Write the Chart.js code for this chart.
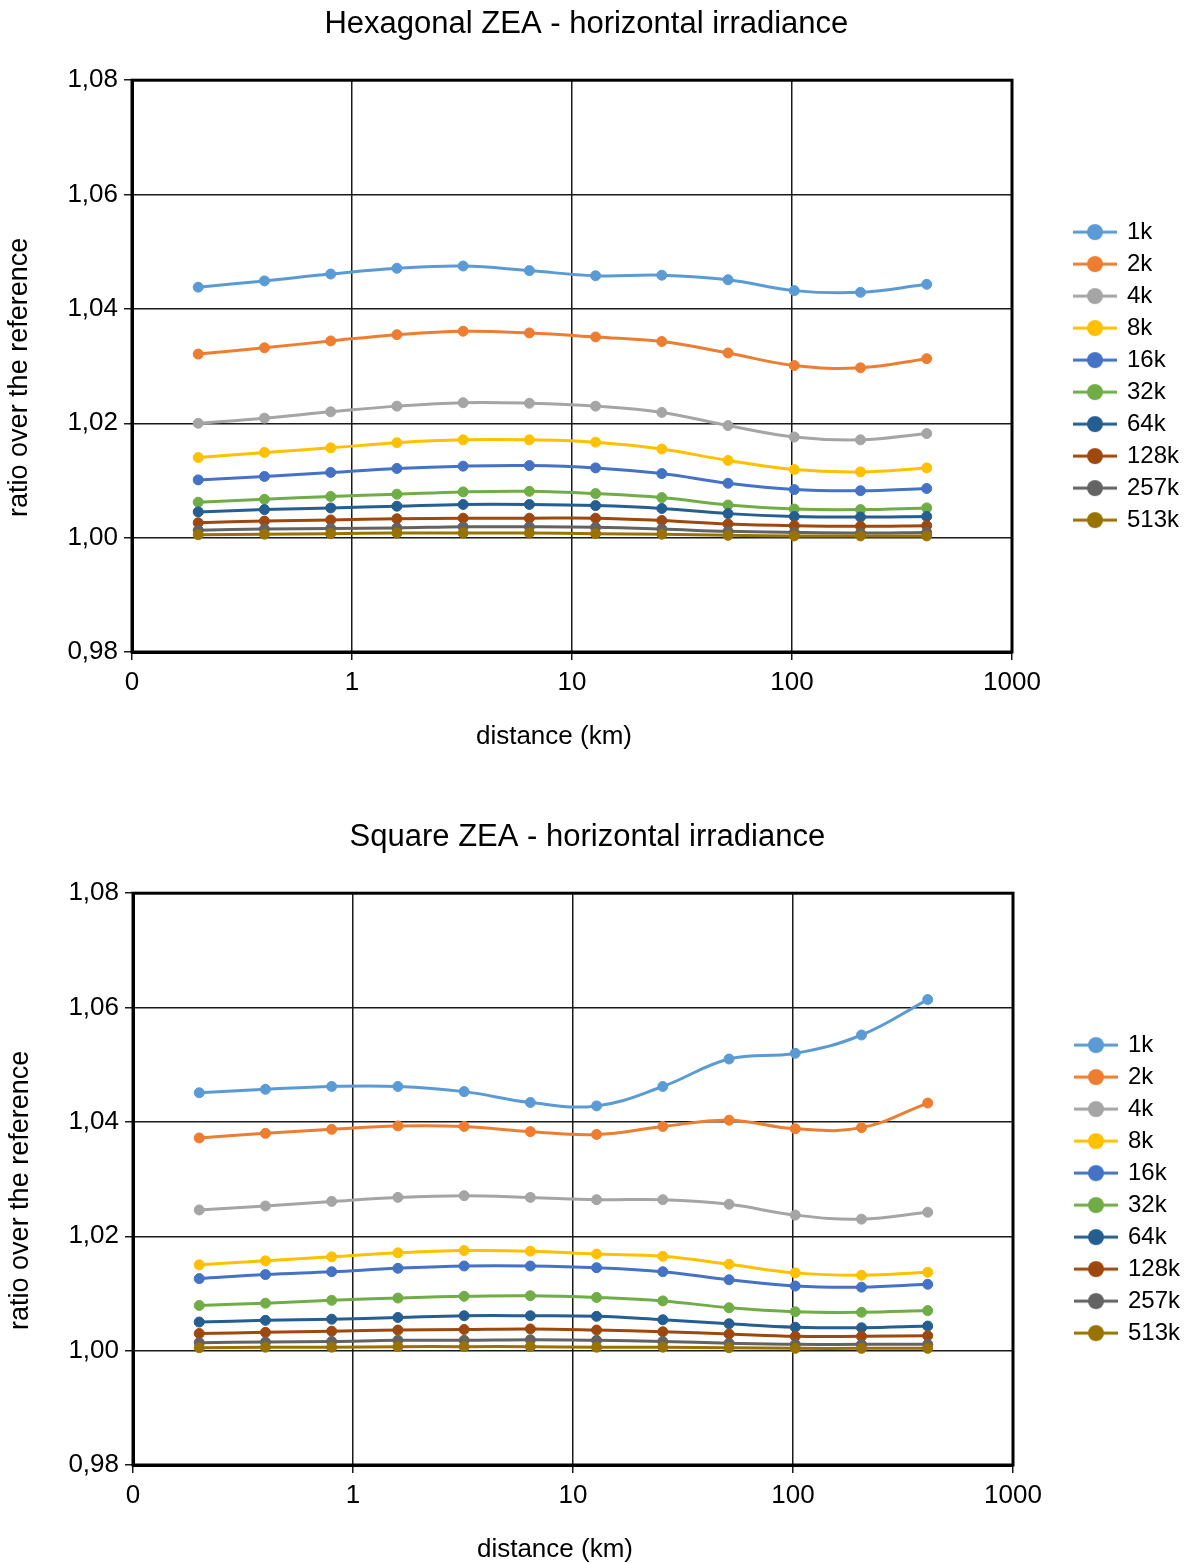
<!DOCTYPE html>
<html>
<head>
<meta charset="utf-8">
<title>ZEA horizontal irradiance</title>
<script src="https://cdn.jsdelivr.net/npm/chart.js@4.4.1/dist/chart.umd.min.js"></script>
<style>
  html, body { margin: 0; padding: 0; background: #fff; overflow: hidden; }
  .panel { position: absolute; left: 0; }
</style>
</head>
<body>
<div class="panel" style="top:0"><canvas id="hexChart" width="1190" height="780"></canvas></div>
<div class="panel" style="top:813px; left:1px"><canvas id="squareChart" width="1190" height="780"></canvas></div>
<script>
// distance from the centre (km), one point per doubling
const distances = [0.2, 0.4, 0.8, 1.6, 3.2, 6.4, 12.8, 25.6, 51.2, 102.4, 204.8, 409.6];
const xTicks = [0.1, 1, 10, 100, 1000];
const seriesNames = ["1k", "2k", "4k", "8k", "16k", "32k", "64k", "128k", "257k", "513k"];
const colors = ["#5B9BD5", "#ED7D31", "#A5A5A5", "#FFC000", "#4472C4",
                "#70AD47", "#255E91", "#9E480E", "#636363", "#997300"];

// Hexagonal ZEA
const hex1k   = [1.0438, 1.0449, 1.0461, 1.0471, 1.0475, 1.0467, 1.0458, 1.0459, 1.0451, 1.0432, 1.0429, 1.0443];
const hex2k   = [1.0321, 1.0332, 1.0344, 1.0355, 1.0361, 1.0358, 1.0351, 1.0343, 1.0323, 1.0301, 1.0297, 1.0313];
const hex4k   = [1.0200, 1.0209, 1.0220, 1.0230, 1.0236, 1.0235, 1.0230, 1.0219, 1.0196, 1.0176, 1.0171, 1.0182];
const hex8k   = [1.0140, 1.0149, 1.0157, 1.0166, 1.0171, 1.0171, 1.0167, 1.0155, 1.0135, 1.0119, 1.0115, 1.0122];
const hex16k  = [1.0101, 1.0107, 1.0114, 1.0121, 1.0125, 1.0126, 1.0122, 1.0112, 1.0095, 1.0084, 1.0082, 1.0086];
const hex32k  = [1.0062, 1.0067, 1.0072, 1.0076, 1.0080, 1.0081, 1.0077, 1.0070, 1.0057, 1.0050, 1.0049, 1.0052];
const hex64k  = [1.0045, 1.0049, 1.0052, 1.0055, 1.0058, 1.0058, 1.0056, 1.0051, 1.0042, 1.0037, 1.0036, 1.0037];
const hex128k = [1.0026, 1.0029, 1.0031, 1.0033, 1.0034, 1.0034, 1.0034, 1.0030, 1.0024, 1.0021, 1.0020, 1.0021];
const hex257k = [1.0013, 1.0015, 1.0016, 1.0017, 1.0019, 1.0019, 1.0018, 1.0015, 1.0011, 1.0009, 1.0008, 1.0009];
const hex513k = [1.0005, 1.0006, 1.0007, 1.0008, 1.0008, 1.0008, 1.0007, 1.0006, 1.0004, 1.0003, 1.0003, 1.0003];

// Square ZEA
const sq1k   = [1.0451, 1.0457, 1.0462, 1.0462, 1.0453, 1.0434, 1.0428, 1.0462, 1.0510, 1.0520, 1.0552, 1.0614];
const sq2k   = [1.0372, 1.0380, 1.0387, 1.0393, 1.0392, 1.0383, 1.0378, 1.0392, 1.0403, 1.0388, 1.0390, 1.0433];
const sq4k   = [1.0246, 1.0253, 1.0261, 1.0268, 1.0271, 1.0268, 1.0264, 1.0264, 1.0256, 1.0237, 1.0230, 1.0242];
const sq8k   = [1.0150, 1.0157, 1.0164, 1.0171, 1.0175, 1.0174, 1.0169, 1.0165, 1.0151, 1.0136, 1.0132, 1.0137];
const sq16k  = [1.0126, 1.0133, 1.0138, 1.0144, 1.0148, 1.0148, 1.0145, 1.0138, 1.0124, 1.0113, 1.0111, 1.0116];
const sq32k  = [1.0079, 1.0083, 1.0088, 1.0092, 1.0095, 1.0096, 1.0093, 1.0087, 1.0075, 1.0068, 1.0067, 1.0070];
const sq64k  = [1.0050, 1.0053, 1.0055, 1.0058, 1.0061, 1.0061, 1.0060, 1.0054, 1.0047, 1.0041, 1.0040, 1.0043];
const sq128k = [1.0030, 1.0032, 1.0034, 1.0036, 1.0037, 1.0038, 1.0036, 1.0033, 1.0029, 1.0025, 1.0025, 1.0026];
const sq257k = [1.0014, 1.0015, 1.0016, 1.0018, 1.0018, 1.0019, 1.0018, 1.0016, 1.0013, 1.0011, 1.0011, 1.0011];
const sq513k = [1.0005, 1.0006, 1.0006, 1.0007, 1.0007, 1.0007, 1.0006, 1.0006, 1.0005, 1.0004, 1.0004, 1.0004];

Chart.defaults.font.family = "'Liberation Sans', Arial, sans-serif";
Chart.defaults.color = "#000";

// line + dot swatch for the legend, like the marker style of the series
function legendMarker(color) {
  const c = document.createElement("canvas");
  c.width = 44;
  c.height = 18;
  const g = c.getContext("2d");
  g.strokeStyle = color;
  g.lineWidth = 3;
  g.beginPath();
  g.moveTo(0, 9);
  g.lineTo(44, 9);
  g.stroke();
  g.fillStyle = color;
  g.beginPath();
  g.arc(22, 9, 8, 0, Math.PI * 2);
  g.fill();
  return c;
}
const markers = colors.map(legendMarker);

// black frame round the plot area
const plotFrame = {
  id: "plotFrame",
  afterDraw(chart) {
    const { ctx, chartArea: a } = chart;
    ctx.save();
    ctx.strokeStyle = "#000";
    ctx.lineWidth = 3;
    ctx.strokeRect(a.left, a.top, a.right - a.left, a.bottom - a.top);
    ctx.restore();
  },
};

// fixed legend width so the plot area ends at the same place in both charts
const legendBox = {
  id: "legendBox",
  beforeInit(chart) {
    const originalFit = chart.legend.fit;
    chart.legend.fit = function fit() {
      originalFit.bind(chart.legend)();
      this.width = 123;
    };
  },
  afterLayout(chart) {
    // sit the legend a little lower than the middle of the plot
    chart.legend.top += 10;
    chart.legend.bottom += 10;
  },
};

function makeChart(canvasId, title, series) {
  const datasets = series.map((values, i) => ({
    label: seriesNames[i],
    data: values.map((v, j) => ({ x: distances[j], y: v })),
    borderColor: colors[i],
    backgroundColor: colors[i],
    pointBackgroundColor: colors[i],
    pointBorderColor: colors[i],
    pointRadius: 5,
    pointBorderWidth: 1,
    borderWidth: 3,
    tension: 0.4,
    order: -i, // later series on top
  }));

  return new Chart(document.getElementById(canvasId), {
    type: "line",
    data: { datasets },
    plugins: [plotFrame, legendBox],
    options: {
      responsive: false,
      devicePixelRatio: 1,
      animation: false,
      events: [],
      layout: { padding: 0 },
      plugins: {
        title: {
          display: true,
          text: title + "  ",
          font: { size: 31, weight: "normal" },
          padding: { top: 6, bottom: 37 },
        },
        legend: {
          position: "right",
          fullSize: false,
          labels: {
            font: { size: 24 },
            usePointStyle: true,
            pointStyleWidth: 40,
            padding: 8,
            sort: (a, b) => a.datasetIndex - b.datasetIndex,
            generateLabels(chart) {
              const items = Chart.defaults.plugins.legend.labels.generateLabels(chart);
              return items.map((item) => ({ ...item, pointStyle: markers[item.datasetIndex] }));
            },
          },
        },
        tooltip: { enabled: false },
      },
      scales: {
        x: {
          type: "logarithmic",
          min: 0.1,
          max: 1000,
          afterBuildTicks(scale) {
            scale.ticks = xTicks.map((v) => ({ value: v }));
          },
          afterFit(scale) {
            scale.height = 128;
          },
          ticks: {
            font: { size: 26 },
            padding: 7,
            autoSkip: false,
            maxRotation: 0,
            callback: (v) => (v < 1 ? "0" : String(v)),
          },
          grid: { color: "#1a1a1a", lineWidth: 1.5, tickLength: 8 },
          border: { color: "#000", width: 3 },
          title: {
            display: true,
            text: "distance (km)     ",
            font: { size: 26 },
            padding: { top: 0, bottom: 28 },
          },
        },
        y: {
          min: 0.98,
          max: 1.08,
          afterFit(scale) {
            scale.width = 132;
          },
          ticks: {
            stepSize: 0.02,
            font: { size: 26 },
            padding: 6,
            callback: (v) => v.toFixed(2).replace(".", ","),
          },
          grid: { color: "#1a1a1a", lineWidth: 1.5, tickLength: 8 },
          border: { color: "#000", width: 3 },
          title: {
            display: true,
            text: "ratio over the reference   ",
            font: { size: 27 },
            padding: { top: 3, bottom: 0 },
          },
        },
        // empty axis that keeps the legend away from the plot
        gap: {
          axis: "y",
          type: "linear",
          position: "right",
          ticks: { display: false },
          grid: { display: false },
          border: { display: false },
          afterFit(scale) {
            scale.width = 55;
          },
        },
      },
    },
  });
}

makeChart("hexChart", "Hexagonal ZEA - horizontal irradiance",
  [hex1k, hex2k, hex4k, hex8k, hex16k, hex32k, hex64k, hex128k, hex257k, hex513k]);
makeChart("squareChart", "Square ZEA - horizontal irradiance",
  [sq1k, sq2k, sq4k, sq8k, sq16k, sq32k, sq64k, sq128k, sq257k, sq513k]);
</script>
</body>
</html>
